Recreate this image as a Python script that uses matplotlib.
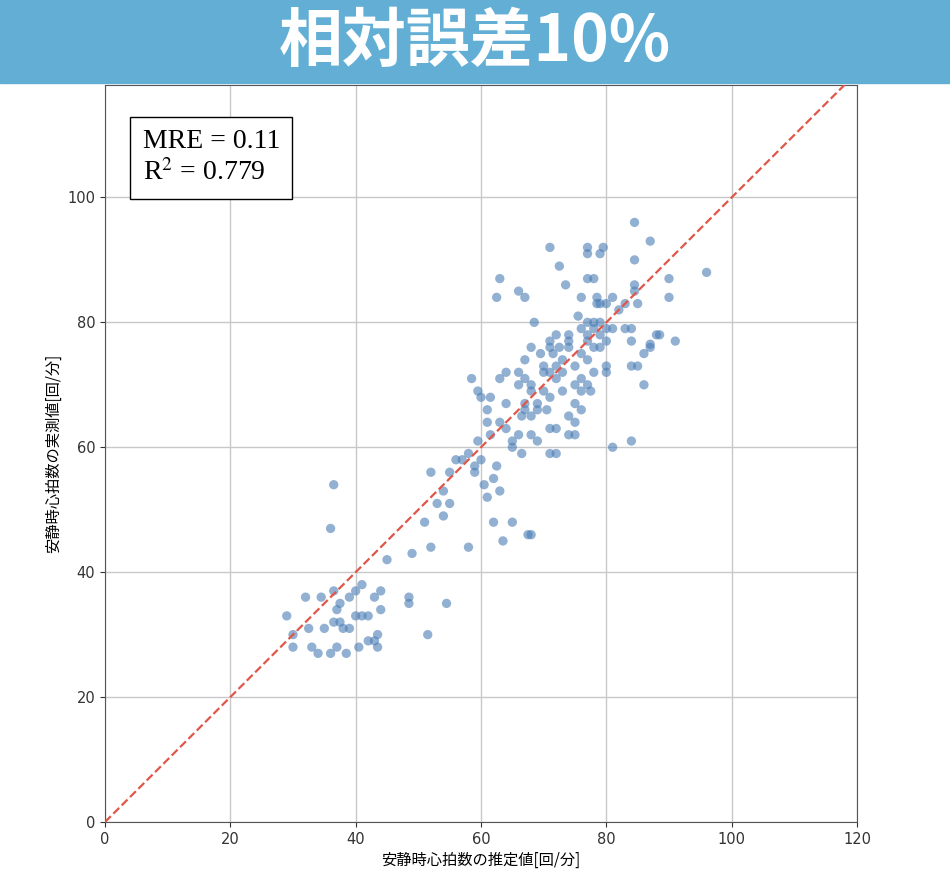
import matplotlib
matplotlib.use("Agg")
import matplotlib.pyplot as plt
from matplotlib.patches import Rectangle

plt.rcParams["mathtext.fontset"] = "stix"

est = [29, 30, 30, 32, 32.5, 33, 34, 34.5, 35, 36, 36.5, 36.5, 36.5, 36, 37, 37.5, 37, 37.5, 38, 38.5,
       39, 39, 40, 40, 40.5, 41, 41, 42, 42, 43, 43, 43.5, 43.5, 44, 44, 45, 48.5, 48.5, 49, 51.5,
       51, 52, 52, 53, 54, 54, 54.5, 55, 55, 56, 57, 58, 58, 58.5, 59, 59, 59.5, 59.5, 60, 60.5,
       61, 61, 61.5, 61, 62, 62, 62.5, 63, 63, 63.5, 64, 64, 65, 65, 65, 64, 63, 62.5, 66, 67,
       66, 66, 66, 66.5, 66.5, 67, 67, 67, 67, 67.5, 68, 68, 68, 68, 68, 68, 68.5, 69, 69, 69,
       69.5, 70, 70, 70, 70.5, 71, 71, 71, 71, 71, 71, 71, 71.5, 72, 72, 72, 72, 72, 72.5, 72.5,
       73, 73, 73, 73.5, 74, 74, 74, 74, 74, 75, 75, 75, 75, 75, 75.5, 76, 76, 76, 76, 76, 76,
       77, 77, 77, 77, 77, 77, 77, 77, 77.5, 78, 78, 78, 78, 78, 78.5, 78.5, 79, 79, 79, 79, 79,
       79.5, 80, 80, 80, 80, 80, 81, 81, 81, 82, 83, 83, 84, 84, 84, 84, 84.5, 84.5, 84.5, 84.5,
       85, 85, 86, 86, 87, 87, 87, 88, 88.5, 90, 90, 91, 96, 63, 60, 61.5]
meas = [33, 30, 28, 36, 31, 28, 27, 36, 31, 47, 54, 37, 32, 27, 28, 35, 34, 32, 31, 27,
        31, 36, 37, 33, 28, 38, 33, 33, 29, 36, 29, 30, 28, 37, 34, 42, 35, 36, 43, 30,
        48, 44, 56, 51, 49, 53, 35, 56, 51, 58, 58, 44, 59, 71, 57, 56, 61, 69, 68, 54,
        52, 64, 68, 66, 48, 55, 57, 64, 71, 45, 72, 67, 48, 60, 61, 63, 87, 84, 85, 84,
        70, 72, 62, 59, 65, 66, 67, 71, 74, 46, 46, 62, 65, 69, 70, 76, 80, 66, 67, 61,
        75, 73, 72, 69, 66, 92, 59, 63, 68, 72, 76, 77, 75, 73, 71, 78, 63, 59, 89, 76,
        74, 69, 72, 86, 77, 65, 62, 78, 76, 67, 64, 62, 70, 73, 81, 84, 79, 75, 69, 71, 66,
        92, 91, 87, 80, 78, 77, 74, 70, 69, 87, 80, 79, 76, 72, 84, 83, 91, 83, 80, 78, 76,
        92, 77, 73, 72, 83, 79, 60, 84, 79, 82, 83, 79, 61, 73, 77, 79, 86, 85, 90, 96,
        83, 73, 70, 75, 93, 76, 76.5, 78, 78, 87, 84, 77, 88, 53, 58, 62]

fig = plt.figure(figsize=(9.5, 8.86), dpi=100)

# title banner
fig.patches.append(Rectangle((0, 886 - 83), 950, 83, transform=None, color="#63aed5", zorder=0))
fig.text(0.5, 1 - 42 / 886, "相対誤差10%", ha="center", va="center", color="white",
         fontsize=46, fontweight="bold", family="Noto Sans CJK JP")

ax = fig.add_axes([105 / 950, 1 - 822 / 886, 752 / 950, 737 / 886])
ax.scatter(est, meas, s=45, color="#4a7db5", alpha=0.6, edgecolors="none", zorder=3)
ax.plot([0, 120], [0, 120], "--", color="#e0574a", lw=1.6, zorder=4)
ax.set_xlim(0, 120)
ax.set_ylim(0, 118)
ax.set_xticks(range(0, 121, 20))
ax.set_yticks(range(0, 101, 20))
ax.grid(True, color="#c8c8c8", lw=1)
ax.tick_params(labelsize=10.5, colors="#333333")
for s in ax.spines.values():
    s.set_color("#555555")
ax.set_xlabel("安静時心拍数の推定値[回/分]", family="Noto Sans CJK JP", fontsize=11)
ax.set_ylabel("安静時心拍数の実測値[回/分]", family="Noto Sans CJK JP", fontsize=11)

ax.text(0.05, 0.94, "MRE = 0.11\nR$^2$ = 0.779", transform=ax.transAxes, va="top", ha="left",
        family="Liberation Serif", fontsize=20, linespacing=1.25,
        bbox=dict(boxstyle="square,pad=0.45", fc="white", ec="black", lw=1))

fig.savefig("out.png", dpi=100)
